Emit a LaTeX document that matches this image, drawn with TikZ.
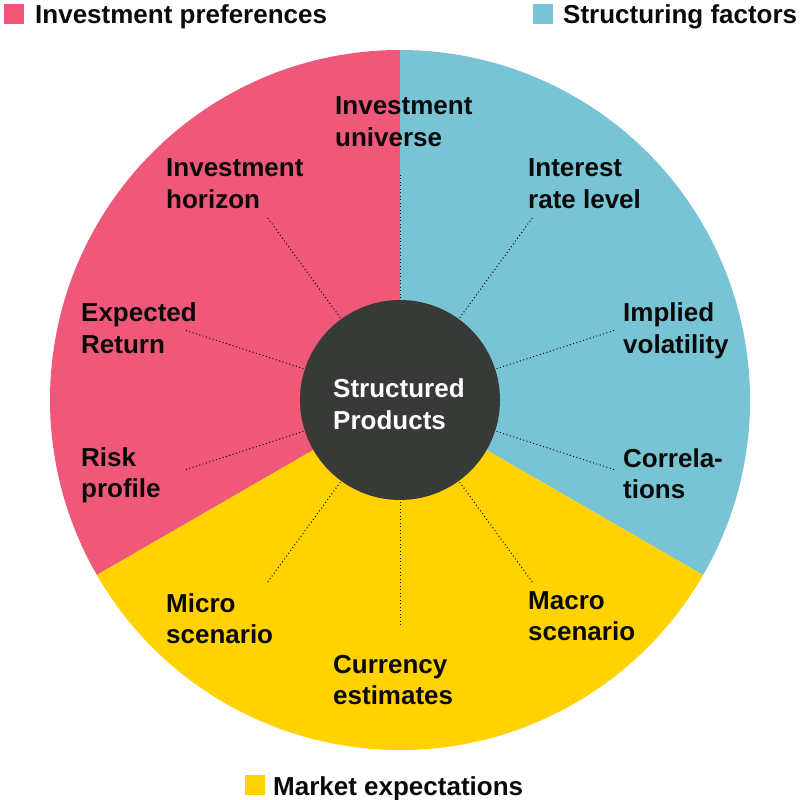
\documentclass[tikz,border=0pt]{standalone}
\usepackage{fontspec}
\setmainfont{Liberation Sans}
\definecolor{cpink}{RGB}{240,88,122}
\definecolor{cblue}{RGB}{120,196,212}
\definecolor{cyellow}{RGB}{255,210,0}
\definecolor{cdark}{RGB}{56,58,55}
\definecolor{ctext}{RGB}{10,10,10}
\tikzset{
  lab/.style={anchor=base west, inner sep=0pt, align=left, text=ctext, font=\fontsize{26}{31.5}\selectfont\bfseries},
  ttl/.style={anchor=base west, inner sep=0pt, text=ctext, font=\fontsize{26}{31.5}\selectfont\bfseries},
  sq/.style={minimum size=20pt, inner sep=0pt, outer sep=0pt},
  dots/.style={line width=1pt, dash pattern=on 1pt off 2.5pt, draw=ctext}
}
\begin{document}
\begin{tikzpicture}[x=1pt,y=1pt]
\useasboundingbox (-400,-400) rectangle (400,400);
% sectors
\fill[cpink] (0,0) -- (90:350) arc[start angle=90, end angle=210, radius=350] -- cycle;
\fill[cblue] (0,0) -- (-30:350) arc[start angle=-30, end angle=90, radius=350] -- cycle;
\fill[cyellow] (0,0) -- (210:350) arc[start angle=210, end angle=330, radius=350] -- cycle;
% centre
\node[circle, fill=cdark, minimum size=200pt, inner sep=0pt] (sp) at (0,0) {};
\node[lab, text=white] (spt) at (-67,-29.5) {Structured\\Products};
% dotted connector ends
\foreach \a/\n in {90/u,126/h,54/i,18/v,-18/c,162/e,198/r,234/mi,270/cu,306/ma}{
  \coordinate (\n) at (\a:225);
  \draw[dots] (\n) -- (sp.\a);
}
% labels (anchor = baseline of last line)
\node[lab] (lu) at (-65,253.5) {Investment\\universe};
\node[lab] (lh) at (-234,191.5) {Investment\\horizon};
\node[lab] (li) at (128,191.5) {Interest\\rate level};
\node[lab] (lv) at (223,46.5) {Implied\\volatility};
\node[lab] (lc) at (223,-98.5) {Correla-\\tions};
\node[lab] (le) at (-319,46.5) {Expected\\Return};
\node[lab] (lr) at (-319,-97.5) {Risk\\profile};
\node[lab] (lmi) at (-234,-243.5) {Micro\\scenario};
\node[lab] (lcu) at (-67,-304.5) {Currency\\estimates};
\node[lab] (lma) at (128,-240.5) {Macro\\scenario};
% legend
\node[sq, fill=cpink, anchor=south west] (s1) at (-396,376) {};
\node[ttl] (t1) at (-365,376) {Investment preferences};
\node[sq, fill=cblue, anchor=south west] (s2) at (133,376) {};
\node[ttl] (t2) at (163,376) {Structuring factors};
\node[sq, fill=cyellow, anchor=south west] (s3) at (-155,-395) {};
\node[ttl] (t3) at (-127,-395) {Market expectations};
\end{tikzpicture}
\end{document}
